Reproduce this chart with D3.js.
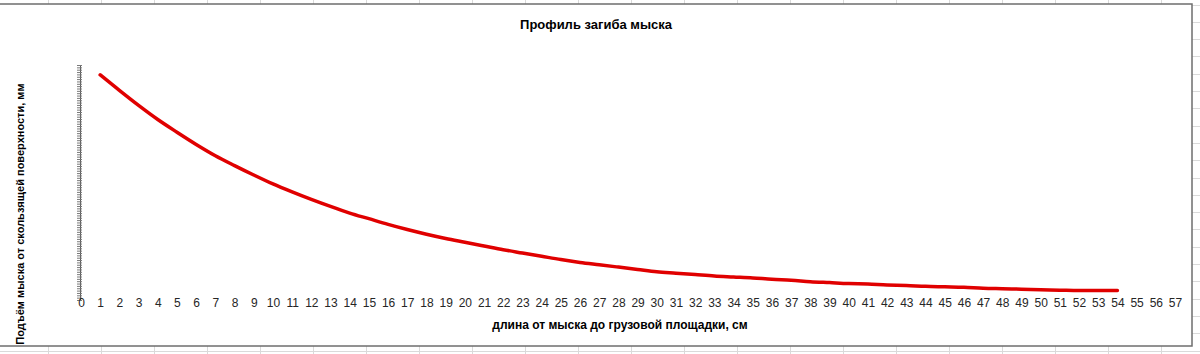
<!DOCTYPE html>
<html>
<head>
<meta charset="utf-8">
<script src="https://cdn.jsdelivr.net/npm/d3@7"></script>
<style>
  body { margin: 0; background: #fff; }
  svg { display: block; font-family: "Liberation Sans", Arial, sans-serif; }
</style>
</head>
<body>
<div id="chart"></div>
<script>
// chart data
var chartTitle = "Профиль загиба мыска";
var xTitle = "длина от мыска до грузовой площадки, см";
var yTitle = "Подъём мыска от скользящей поверхности, мм";

var xTicks = d3.range(0, 58); // tick labels 0..57
var lengthCm = d3.range(1, 55);
var lift = [
  47.9, 44.6, 41.4, 38.4, 35.7, 33.1, 30.7, 28.6, 26.6, 24.7,
  23.0, 21.4, 19.9, 18.5, 17.3, 16.1, 15.0, 14.0, 13.1, 12.3,
  11.5, 10.7, 10.0, 9.3, 8.6, 8.0, 7.5, 7.0, 6.5, 6.0,
  5.7, 5.4, 5.1, 4.9, 4.7, 4.4, 4.2, 3.9, 3.7, 3.5,
  3.4, 3.2, 3.1, 2.9, 2.8, 2.7, 2.5, 2.4, 2.3, 2.2,
  2.1, 2.0, 2.0, 2.0
];

var width = 1200, height = 354;

var svg = d3.select("#chart").append("svg")
    .attr("width", width)
    .attr("height", height);

// spreadsheet grid behind the chart object
var grid = svg.append("g").attr("stroke", "#dadada").attr("stroke-width", 1);
d3.range(48, width, 53).forEach(function(x) {
  grid.append("line").attr("x1", x + 0.5).attr("x2", x + 0.5).attr("y1", 0).attr("y2", height);
});
d3.range(4.5, height, 17.3).forEach(function(y) {
  grid.append("line").attr("x1", 0).attr("x2", width).attr("y1", Math.round(y) + 0.5).attr("y2", Math.round(y) + 0.5);
});

// chart object frame
svg.append("rect")
    .attr("x", -3).attr("y", 4)
    .attr("width", 1195).attr("height", 342)
    .attr("fill", "#fff")
    .attr("stroke", "#6e6e6e")
    .attr("stroke-width", 1.5);

var x = d3.scaleLinear().domain([0, 57]).range([81, 1175]);
var y = d3.scaleLinear().domain([0, 50]).range([300, 65]);

// title
svg.append("text")
    .attr("x", 596).attr("y", 29)
    .attr("text-anchor", "middle")
    .style("font-size", "13px").style("font-weight", "bold")
    .attr("fill", "#000")
    .text(chartTitle);

// y axis: line with dense tick marks, no labels
var yAxis = d3.axisLeft(y)
    .ticks(100)
    .tickSize(3)
    .tickFormat("");
var gy = svg.append("g")
    .attr("transform", "translate(80,0)")
    .call(yAxis);
gy.select(".domain").attr("stroke", "#595959");
gy.selectAll(".tick line").attr("stroke", "#7a7a7a").attr("x2", -3).attr("x1", 2);

// x axis: labels only
var xAxis = d3.axisBottom(x)
    .tickValues(xTicks)
    .tickSize(0)
    .tickPadding(0)
    .tickFormat(d3.format("d"));
var gx = svg.append("g")
    .attr("transform", "translate(0,298)")
    .call(xAxis);
gx.select(".domain").remove();
gx.selectAll("text")
    .attr("fill", "#262626")
    .style("font-size", "12px");

// axis titles
svg.append("text")
    .attr("x", 620).attr("y", 329)
    .attr("text-anchor", "middle")
    .style("font-size", "12px").style("font-weight", "bold")
    .text(xTitle);

svg.append("text")
    .attr("transform", "translate(24,214) rotate(-90)")
    .attr("text-anchor", "middle")
    .style("font-size", "11px").style("font-weight", "bold")
    .text(yTitle);

// curve
var line = d3.line()
    .x(function(d, i) { return x(lengthCm[i]); })
    .y(function(d) { return y(d); })
    .curve(d3.curveMonotoneX);

svg.append("path")
    .datum(lift)
    .attr("fill", "none")
    .attr("stroke", "#e00000")
    .attr("stroke-width", 3.5)
    .attr("stroke-linecap", "round")
    .attr("d", line);
</script>
</body>
</html>
